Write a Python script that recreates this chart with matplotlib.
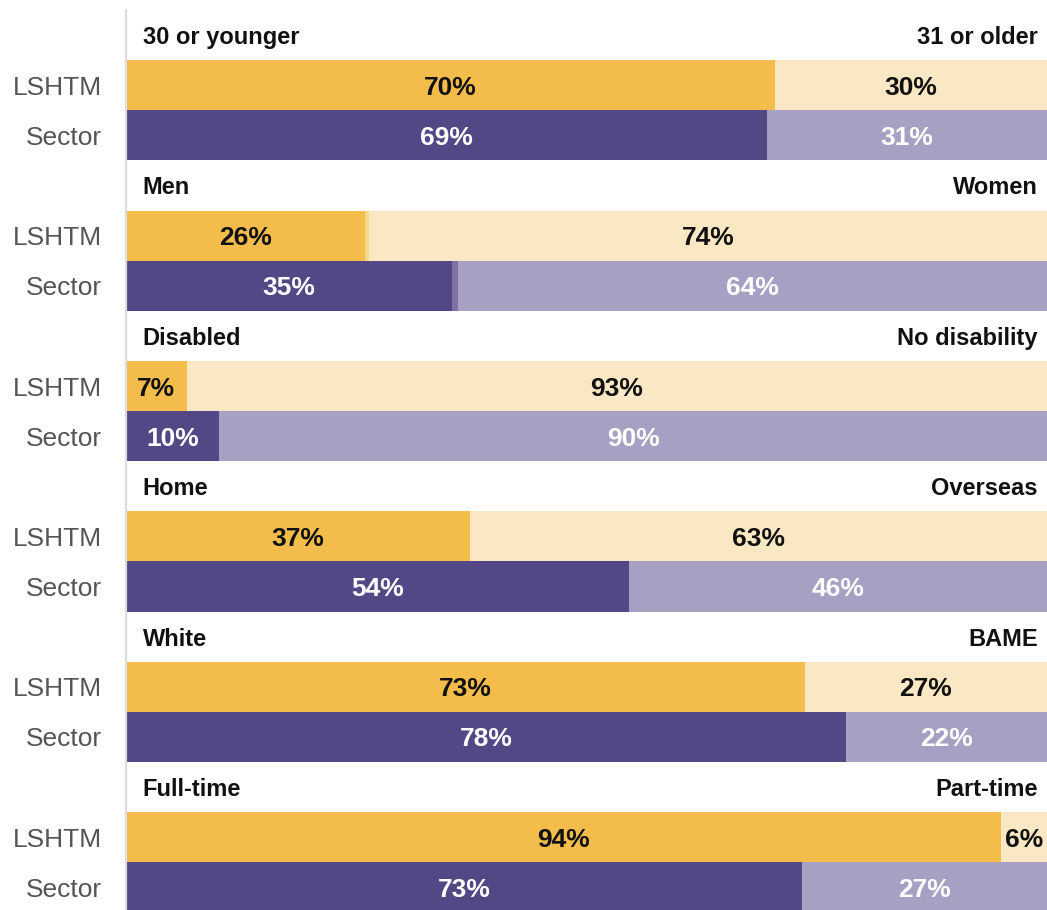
import matplotlib
matplotlib.use("Agg")
import matplotlib.pyplot as plt

plt.rcParams['font.family'] = ['Liberation Sans', 'DejaVu Sans']

# ---- data ----
left_cats = ["30 or younger", "Men", "Disabled", "Home", "White", "Full-time"]
right_cats = ["31 or older", "Women", "No disability", "Overseas", "BAME", "Part-time"]
row_names = ["LSHTM", "Sector"]

lshtm_left = [70.5, 26.0, 6.6, 37.4, 73.7, 95.0]
lshtm_mid = [0.0, 0.4, 0.0, 0.0, 0.0, 0.0]
lshtm_right = [29.5, 73.6, 93.4, 62.6, 26.3, 5.0]
sector_left = [69.6, 35.4, 10.1, 54.6, 78.2, 73.4]
sector_mid = [0.0, 0.6, 0.0, 0.0, 0.0, 0.0]
sector_right = [30.4, 64.0, 89.9, 45.4, 21.8, 26.6]

lshtm_left_lbl = ["70%", "26%", "7%", "37%", "73%", "94%"]
lshtm_right_lbl = ["30%", "74%", "93%", "63%", "27%", "6%"]
sector_left_lbl = ["69%", "35%", "10%", "54%", "78%", "73%"]
sector_right_lbl = ["31%", "64%", "90%", "46%", "22%", "27%"]

# ---- style ----
GOLD, GOLD_MID, GOLD_LIGHT = "#F4BD4B", "#F8D889", "#FAE7C3"
PURP, PURP_MID, PURP_LIGHT = "#544786", "#7E71A6", "#A8A0C3"

W, H = 1047, 910
fig = plt.figure(figsize=(W / 100, H / 100), dpi=100)
ax = fig.add_axes([126 / W, -2.4 / H, 1 - 126 / W, 902.4 / H])
ax.set_xlim(0, 100)
ax.set_ylim(18, 0)
for s in ax.spines.values():
    s.set_visible(False)
ax.set_xticks([])

# left gray rule
fig.add_artist(plt.Line2D([125.5 / W, 125.5 / W], [0, 1 - 10 / H], color="#dcdcdc", lw=1.6))

yt, yl = [], []
fs_pct = 19
dy = 0.05
for g in range(len(left_cats)):
    yh = 3 * g + 0.5 + dy
    ax.text(1.8, yh, left_cats[g], ha="left", va="center", fontsize=17, fontweight="bold", color="#111")
    ax.text(99.0, yh, right_cats[g], ha="right", va="center", fontsize=17, fontweight="bold", color="#111")
    rows = [
        (lshtm_left[g], lshtm_mid[g], lshtm_right[g], (GOLD, GOLD_MID, GOLD_LIGHT),
         lshtm_left_lbl[g], lshtm_right_lbl[g], ("#111", "#111")),
        (sector_left[g], sector_mid[g], sector_right[g], (PURP, PURP_MID, PURP_LIGHT),
         sector_left_lbl[g], sector_right_lbl[g], ("white", "white")),
    ]
    for r, (lv, mv, rv, cols, ll, rl, tc) in enumerate(rows):
        y = 3 * g + 1 + r + 0.5
        ax.barh(y, lv, left=0, height=1.0, color=cols[0], linewidth=0)
        if mv > 0:
            ax.barh(y, mv, left=lv, height=1.0, color=cols[1], linewidth=0)
        ax.barh(y, rv, left=lv + mv, height=1.0, color=cols[2], linewidth=0)
        ax.text(lv / 2, y + dy, ll, ha="center", va="center", fontsize=fs_pct, fontweight="bold", color=tc[0])
        ax.text(lv + mv + rv / 2, y + dy, rl, ha="center", va="center", fontsize=fs_pct, fontweight="bold", color=tc[1])
        yt.append(y)
        yl.append(row_names[r])

ax.set_yticks(yt)
ax.set_yticklabels(yl, fontsize=19, color="#555555")
ax.tick_params(axis="y", length=0, pad=17)

fig.savefig("out.png", dpi=100)
